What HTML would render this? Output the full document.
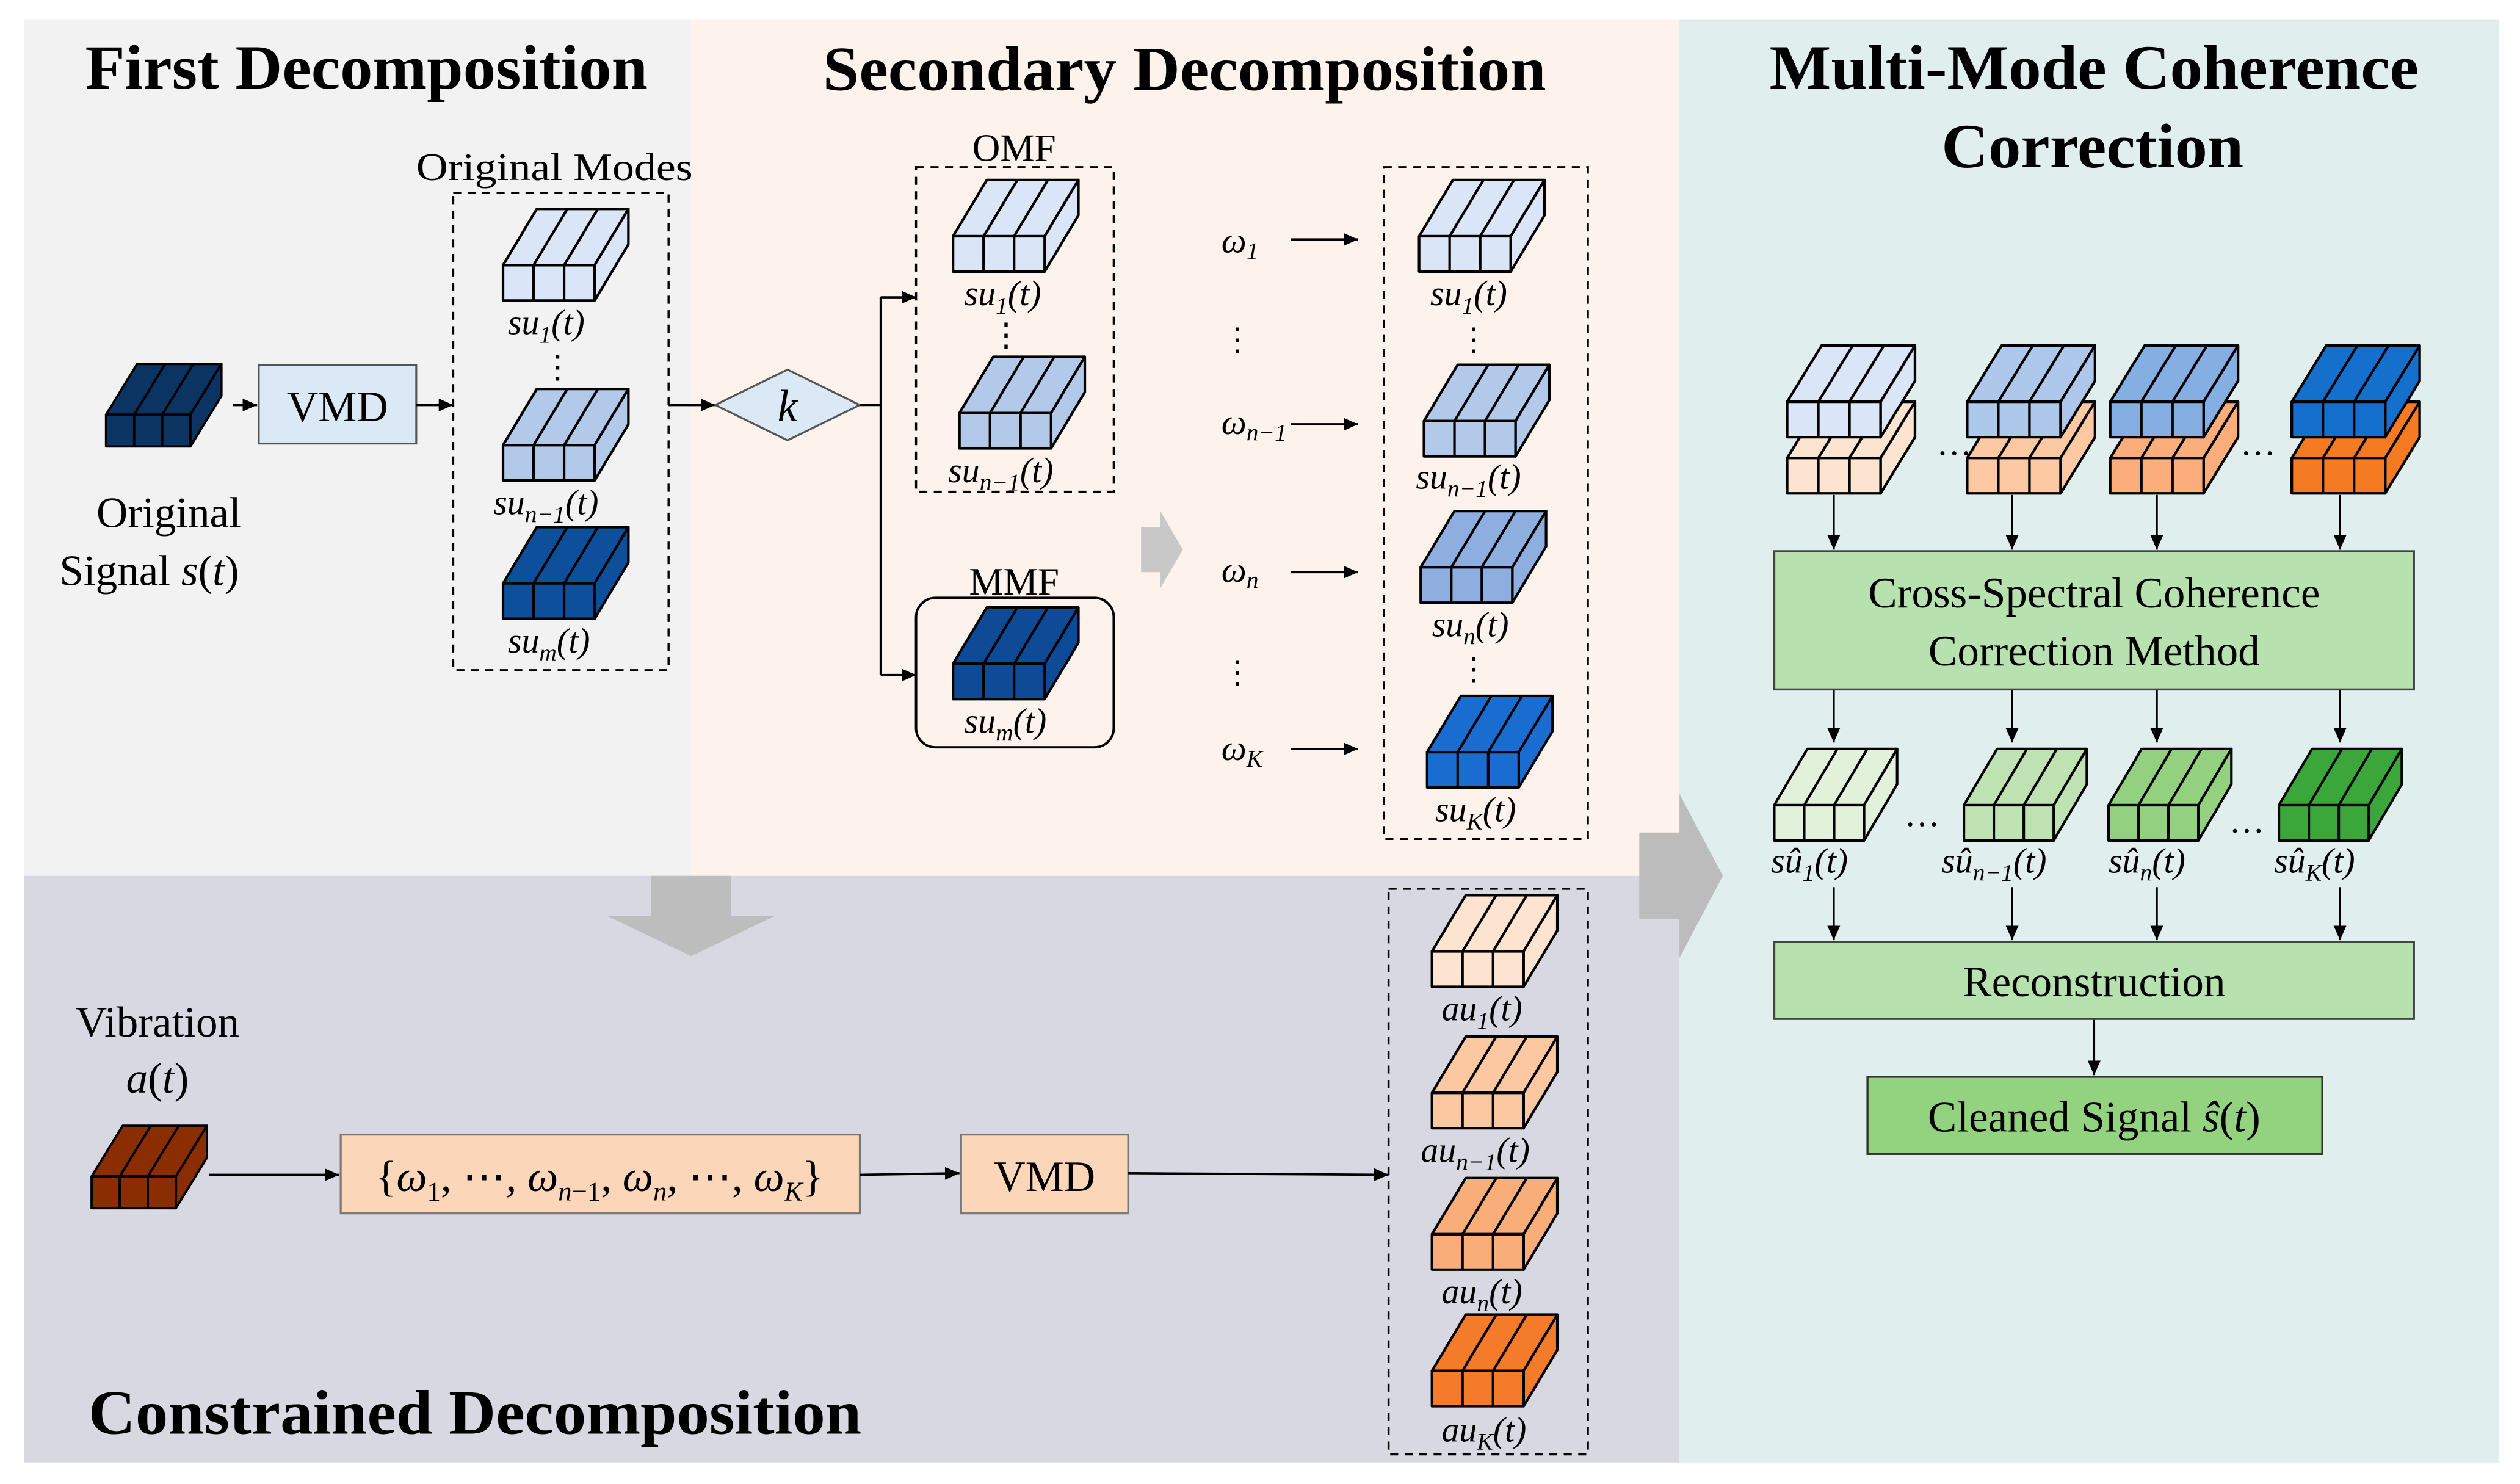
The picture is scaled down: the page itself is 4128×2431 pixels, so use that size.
<!DOCTYPE html>
<html><head><meta charset="utf-8"><style>
html,body{margin:0;padding:0;background:#fff;}
svg{display:block;}
text{font-family:"Liberation Serif",serif;fill:#000;}
.t{font-family:"Liberation Serif",serif;font-weight:bold;font-size:39px;}
.l{font-family:"Liberation Serif",serif;font-size:27px;}
.m{font-family:"Liberation Serif",serif;font-size:22px;font-style:italic;}
.s{font-size:15px;font-style:italic;}
</style></head><body>
<svg width="4128" height="2431" viewBox="0 0 1568 923.4" preserveAspectRatio="none" font-family="Liberation Serif, serif" xmlns="http://www.w3.org/2000/svg" xmlns:xlink="http://www.w3.org/1999/xlink">
<defs>
<g id="cube" stroke="#000" stroke-width="1.6" stroke-linejoin="round">
<path d="M0 0 L21 -35 L78 -35 L57 0 Z"/>
<path d="M57 0 L78 -35 L78 -13 L57 22 Z"/>
<rect x="0" y="0" width="57" height="22"/>
<path d="M19 0 V22 M38 0 V22 M19 0 L40 -35 M38 0 L59 -35" fill="none"/>
</g>
<marker id="ar" markerWidth="10" markerHeight="10" refX="9" refY="5" orient="auto" markerUnits="userSpaceOnUse"><path d="M0 1 L9 5 L0 9 Z" fill="#000"/></marker>
</defs>
<rect width="1568" height="924" fill="#fff"/>
<rect x="15" y="12" width="415" height="533" fill="#f2f2f2"/>
<rect x="430" y="12" width="615" height="533" fill="#fdf3ec"/>
<rect x="1045" y="12" width="510" height="898" fill="#e0eeed"/>
<rect x="15" y="545" width="1030" height="365" fill="#d8d8e2"/>

<text class="t" x="53" y="55" textLength="350" lengthAdjust="spacingAndGlyphs">First Decomposition</text>
<text class="t" x="512" y="56" textLength="450" lengthAdjust="spacingAndGlyphs">Secondary Decomposition</text>
<text class="t" x="1101" y="55" textLength="404" lengthAdjust="spacingAndGlyphs">Multi-Mode Coherence</text>
<text class="t" x="1208" y="104" textLength="188" lengthAdjust="spacingAndGlyphs">Correction</text>
<text class="t" x="55" y="892" textLength="481" lengthAdjust="spacingAndGlyphs">Constrained Decomposition</text>

<!-- big grey arrows -->
<path d="M405 545 H455 V570 H482 L430 595 L378 570 H405 Z" fill="#bdbdbd"/>
<path d="M710 328 H722 V318 L736 342 L722 366 V356 H710 Z" fill="#c8c8c8"/>
<path d="M1020 518 H1045 V494 L1072 545 L1045 596 V572 H1020 Z" fill="#bcbcbc"/>

<!-- First decomposition -->
<use xlink:href="#cube" transform="translate(66,258) scale(0.92,0.9)" fill="#0b3463"/>
<rect x="161" y="227" width="98" height="49" fill="#dbe9f7" stroke="#555" stroke-width="1.2"/>
<text class="l" x="210" y="262" text-anchor="middle">VMD</text>
<line x1="145" y1="252" x2="160" y2="252" stroke="#000" stroke-width="1.5" marker-end="url(#ar)"/>
<line x1="259" y1="252" x2="282" y2="252" stroke="#000" stroke-width="1.5" marker-end="url(#ar)"/>
<text class="l" x="105" y="328" text-anchor="middle">Original</text>
<text class="l" x="37" y="364">Signal <tspan font-style="italic">s</tspan>(<tspan font-style="italic">t</tspan>)</text>
<text x="259" y="112" font-size="24" textLength="172" lengthAdjust="spacingAndGlyphs">Original Modes</text>
<rect x="282" y="120" width="134" height="297" fill="none" stroke="#000" stroke-width="1.3" stroke-dasharray="5,4"/>
<use xlink:href="#cube" x="313" y="165" fill="#dae6f7"/>
<text class="m" x="316" y="208">su<tspan class="s" dy="5">1</tspan><tspan dy="-5">(t)</tspan></text>
<text x="347" y="235" font-size="20" text-anchor="middle">⋮</text>
<use xlink:href="#cube" x="313" y="277" fill="#b3c9ea"/>
<text class="m" x="307" y="320">su<tspan class="s" dy="5">n−1</tspan><tspan dy="-5">(t)</tspan></text>
<use xlink:href="#cube" x="313" y="363" fill="#0e4f9c"/>
<text class="m" x="316" y="406">su<tspan class="s" dy="5">m</tspan><tspan dy="-5">(t)</tspan></text>

<!-- k diamond -->
<line x1="416" y1="252" x2="445" y2="252" stroke="#000" stroke-width="1.5" marker-end="url(#ar)"/>
<path d="M445 252 L490 230 L535 252 L490 274 Z" fill="#dbe9f7" stroke="#555" stroke-width="1.2"/>
<text x="490" y="262" font-size="28" font-style="italic" text-anchor="middle">k</text>
<path d="M535 252 H548 V185 M548 252 V420" fill="none" stroke="#000" stroke-width="1.4"/>
<line x1="548" y1="185" x2="570" y2="185" stroke="#000" stroke-width="1.4" marker-end="url(#ar)"/>
<line x1="548" y1="420" x2="570" y2="420" stroke="#000" stroke-width="1.4" marker-end="url(#ar)"/>

<text x="631" y="100" font-size="24" text-anchor="middle">OMF</text>
<rect x="570" y="104" width="123" height="202" fill="none" stroke="#000" stroke-width="1.3" stroke-dasharray="5,4"/>
<use xlink:href="#cube" x="593" y="147" fill="#dae6f7"/>
<text class="m" x="600" y="190">su<tspan class="s" dy="5">1</tspan><tspan dy="-5">(t)</tspan></text>
<text x="626" y="215" font-size="20" text-anchor="middle">⋮</text>
<use xlink:href="#cube" x="597" y="257" fill="#b3c9ea"/>
<text class="m" x="590" y="300">su<tspan class="s" dy="5">n−1</tspan><tspan dy="-5">(t)</tspan></text>
<text x="631" y="370" font-size="24" text-anchor="middle">MMF</text>
<rect x="570" y="372" width="123" height="93" rx="12" fill="none" stroke="#000" stroke-width="1.5"/>
<use xlink:href="#cube" x="593" y="413" fill="#0e4a95"/>
<text class="m" x="600" y="456">su<tspan class="s" dy="5">m</tspan><tspan dy="-5">(t)</tspan></text>

<!-- omegas -->
<text class="m" x="760" y="157">ω<tspan class="s" dy="4">1</tspan></text>
<text x="770" y="218" font-size="20" text-anchor="middle">⋮</text>
<text class="m" x="760" y="270">ω<tspan class="s" dy="4">n−1</tspan></text>
<text class="m" x="760" y="362">ω<tspan class="s" dy="4">n</tspan></text>
<text x="770" y="425" font-size="20" text-anchor="middle">⋮</text>
<text class="m" x="760" y="473">ω<tspan class="s" dy="4">K</tspan></text>
<g stroke="#000" stroke-width="1.4">
<line x1="803" y1="149" x2="845" y2="149" marker-end="url(#ar)"/>
<line x1="803" y1="264" x2="845" y2="264" marker-end="url(#ar)"/>
<line x1="803" y1="356" x2="845" y2="356" marker-end="url(#ar)"/>
<line x1="803" y1="466" x2="845" y2="466" marker-end="url(#ar)"/>
</g>
<rect x="861" y="104" width="127" height="418" fill="none" stroke="#000" stroke-width="1.3" stroke-dasharray="5,4"/>
<use xlink:href="#cube" x="883" y="147" fill="#dae6f7"/>
<text class="m" x="890" y="190">su<tspan class="s" dy="5">1</tspan><tspan dy="-5">(t)</tspan></text>
<text x="917" y="218" font-size="20" text-anchor="middle">⋮</text>
<use xlink:href="#cube" x="886" y="262" fill="#b3c9ea"/>
<text class="m" x="881" y="304">su<tspan class="s" dy="5">n−1</tspan><tspan dy="-5">(t)</tspan></text>
<use xlink:href="#cube" x="884" y="353" fill="#8eaee0"/>
<text class="m" x="891" y="396">su<tspan class="s" dy="5">n</tspan><tspan dy="-5">(t)</tspan></text>
<text x="917" y="423" font-size="20" text-anchor="middle">⋮</text>
<use xlink:href="#cube" x="888" y="468" fill="#1a6dd0"/>
<text class="m" x="893" y="511">su<tspan class="s" dy="5">K</tspan><tspan dy="-5">(t)</tspan></text>

<!-- Constrained -->
<text class="l" x="98" y="645" text-anchor="middle">Vibration</text>
<text x="98" y="680" font-size="27" text-anchor="middle"><tspan font-style="italic">a</tspan>(<tspan font-style="italic">t</tspan>)</text>
<use xlink:href="#cube" transform="translate(57,732) scale(0.92,0.9)" fill="#8a2d00"/>
<line x1="130" y1="731" x2="211" y2="731" stroke="#000" stroke-width="1.4" marker-end="url(#ar)"/>
<rect x="212" y="706" width="323" height="49" fill="#fbd6b8" stroke="#777" stroke-width="1.2"/>
<text x="373" y="741" font-size="27" text-anchor="middle">{<tspan font-style="italic">ω</tspan><tspan font-size="17" dy="6">1</tspan><tspan dy="-6">, ⋯, </tspan><tspan font-style="italic">ω</tspan><tspan font-size="17" font-style="italic" dy="6">n</tspan><tspan font-size="17" dy="0">−1</tspan><tspan dy="-6">, </tspan><tspan font-style="italic">ω</tspan><tspan font-size="17" font-style="italic" dy="6">n</tspan><tspan dy="-6">, ⋯, </tspan><tspan font-style="italic">ω</tspan><tspan font-size="17" font-style="italic" dy="6">K</tspan><tspan dy="-6">}</tspan></text>
<line x1="535" y1="731" x2="597" y2="730" stroke="#000" stroke-width="1.4" marker-end="url(#ar)"/>
<rect x="598" y="706" width="104" height="49" fill="#fbd6b8" stroke="#777" stroke-width="1.2"/>
<text class="l" x="650" y="741" text-anchor="middle">VMD</text>
<line x1="702" y1="730" x2="864" y2="731" stroke="#000" stroke-width="1.4" marker-end="url(#ar)"/>
<rect x="864" y="553" width="124" height="352" fill="none" stroke="#000" stroke-width="1.3" stroke-dasharray="5,4"/>
<use xlink:href="#cube" x="891" y="592" fill="#fde4d0"/>
<text class="m" x="897" y="635">au<tspan class="s" dy="5">1</tspan><tspan dy="-5">(t)</tspan></text>
<use xlink:href="#cube" x="891" y="680" fill="#fbc8a2"/>
<text class="m" x="884" y="723">au<tspan class="s" dy="5">n−1</tspan><tspan dy="-5">(t)</tspan></text>
<use xlink:href="#cube" x="891" y="768" fill="#f9ad78"/>
<text class="m" x="897" y="811">au<tspan class="s" dy="5">n</tspan><tspan dy="-5">(t)</tspan></text>
<use xlink:href="#cube" x="891" y="853" fill="#f47b2a"/>
<text class="m" x="897" y="897">au<tspan class="s" dy="5">K</tspan><tspan dy="-5">(t)</tspan></text>

<!-- right panel -->
<g>
<use xlink:href="#cube" transform="translate(1112,285) scale(1.02,1)" fill="#fde4d0"/>
<use xlink:href="#cube" transform="translate(1112,250) scale(1.02,1)" fill="#dae6f7"/>
<use xlink:href="#cube" transform="translate(1224,285) scale(1.02,1)" fill="#fcc9a3"/>
<use xlink:href="#cube" transform="translate(1224,250) scale(1.02,1)" fill="#adc8ea"/>
<use xlink:href="#cube" transform="translate(1313,285) scale(1.02,1)" fill="#fbae7c"/>
<use xlink:href="#cube" transform="translate(1313,250) scale(1.02,1)" fill="#85aee2"/>
<use xlink:href="#cube" transform="translate(1426,285) scale(1.02,1)" fill="#f47b22"/>
<use xlink:href="#cube" transform="translate(1426,250) scale(1.02,1)" fill="#1470cc"/>
</g>
<text x="1205" y="283" font-size="22">…</text>
<text x="1394" y="283" font-size="22">…</text>
<g stroke="#000" stroke-width="1.3">
<line x1="1141" y1="308" x2="1141" y2="342" marker-end="url(#ar)"/>
<line x1="1252" y1="308" x2="1252" y2="342" marker-end="url(#ar)"/>
<line x1="1342" y1="308" x2="1342" y2="342" marker-end="url(#ar)"/>
<line x1="1456" y1="308" x2="1456" y2="342" marker-end="url(#ar)"/>
<line x1="1141" y1="429" x2="1141" y2="462" marker-end="url(#ar)"/>
<line x1="1252" y1="429" x2="1252" y2="462" marker-end="url(#ar)"/>
<line x1="1342" y1="429" x2="1342" y2="462" marker-end="url(#ar)"/>
<line x1="1456" y1="429" x2="1456" y2="462" marker-end="url(#ar)"/>
<line x1="1141" y1="552" x2="1141" y2="585" marker-end="url(#ar)"/>
<line x1="1252" y1="552" x2="1252" y2="585" marker-end="url(#ar)"/>
<line x1="1342" y1="552" x2="1342" y2="585" marker-end="url(#ar)"/>
<line x1="1456" y1="552" x2="1456" y2="585" marker-end="url(#ar)"/>
<line x1="1303" y1="634" x2="1303" y2="669" marker-end="url(#ar)"/>
</g>
<rect x="1104" y="343" width="398" height="86" fill="#b8e1b0" stroke="#444" stroke-width="1.3"/>
<text class="l" x="1303" y="378" text-anchor="middle">Cross-Spectral Coherence</text>
<text class="l" x="1303" y="414" text-anchor="middle">Correction Method</text>
<use xlink:href="#cube" transform="translate(1104,501) scale(0.98,1)" fill="#e2f1da"/>
<use xlink:href="#cube" transform="translate(1222,501) scale(0.98,1)" fill="#bfe2b2"/>
<use xlink:href="#cube" transform="translate(1312,501) scale(0.98,1)" fill="#93d181"/>
<use xlink:href="#cube" transform="translate(1418,501) scale(0.98,1)" fill="#3ba63a"/>
<text x="1185" y="514" font-size="22">…</text>
<text x="1387" y="518" font-size="22">…</text>
<text class="m" x="1102" y="543">su&#770;<tspan class="s" dy="5">1</tspan><tspan dy="-5">(t)</tspan></text>
<text class="m" x="1208" y="543">su&#770;<tspan class="s" dy="5">n−1</tspan><tspan dy="-5">(t)</tspan></text>
<text class="m" x="1312" y="543">su&#770;<tspan class="s" dy="5">n</tspan><tspan dy="-5">(t)</tspan></text>
<text class="m" x="1415" y="543">su&#770;<tspan class="s" dy="5">K</tspan><tspan dy="-5">(t)</tspan></text>
<rect x="1104" y="586" width="398" height="48" fill="#b8e1b0" stroke="#444" stroke-width="1.3"/>
<text class="l" x="1303" y="620" text-anchor="middle">Reconstruction</text>
<rect x="1162" y="670" width="283" height="48" fill="#93d27f" stroke="#333" stroke-width="1.3"/>
<text class="l" x="1303" y="704" text-anchor="middle">Cleaned Signal <tspan font-style="italic">ŝ</tspan>(<tspan font-style="italic">t</tspan>)</text>
</svg>
</body></html>
